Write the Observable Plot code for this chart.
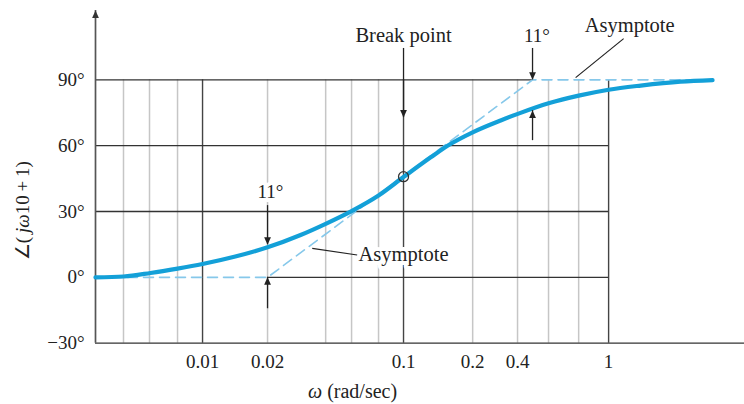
<!DOCTYPE html>
<html><head><meta charset="utf-8">
<script src="https://cdn.jsdelivr.net/npm/d3@7"></script>
<script src="https://cdn.jsdelivr.net/npm/@observablehq/plot@0.6"></script>
<style>html,body{margin:0;padding:0;background:#fff}svg{display:block}</style>
</head><body><div id="chart"></div>
<script>
// phase curve of (jω10+1)
const omega = [0.00297, 0.00408, 0.00554, 0.00753, 0.01, 0.0145, 0.0209, 0.0304, 0.0404, 0.0542, 0.0736, 0.0977, 0.133, 0.161, 0.214, 0.294, 0.360, 0.506, 0.712, 1, 1.44, 2.26, 3.25];
const phase = [0, 0.4, 2.0, 4.0, 6.1, 9.5, 13.7, 19.3, 24.4, 30.2, 37.3, 45.7, 54.7, 60.0, 66.1, 71.5, 74.6, 79.3, 82.8, 85.5, 87.4, 89.2, 89.9];
// straight-line asymptote
const asymOmega = [0.00297, 0.0209, 0.422, 3.25];
const asymPhase = [0, 0, 90, 90];
// grid
const gridLight = [0.00408, 0.00548, 0.00753, 0.0209, 0.0404, 0.0542, 0.0736, 0.214, 0.356, 0.506, 0.712];
const gridDark = [0.01, 0.0977, 1];
const hLineY = [90, 60, 30, 0, -30];
const hLineFrom = [0.00297, 0.00297, 0.00297, 0.0209, 0.00297];
const hLineTo = [0.422, 1, 1, 1, 4.67];
// ticks
const xTickAt = [0.01, 0.0209, 0.0977, 0.214, 0.356, 1];
const xTickLabels = ["0.01", "0.02", "0.1", "0.2", "0.4", "1"];
const yTicks = [90, 60, 30, 0, -30];
const yTickLabels = ["90°", "60°", "30°", "0°", "−30°"];
// annotations
const arrowX = [0.0977, 0.422, 0.422, 0.0209, 0.0209];
const arrowFrom = [104.3, 104.3, 62.3, 32.7, -14.3];
const arrowTo = [72.8, 90, 76.0, 14.9, 0];
const noteText = ["Break point", "11°", "11°", "Asymptote", "Asymptote"];
const noteX = [0.0977, 0.444, 0.0216, 1.27, 0.0977];
const noteY = [110.2, 110.2, 38.8, 114.7, 10.3];
const leadX1 = [1.186, 0.0347], leadY1 = [108.8, 13.2], leadX2 = [0.688, 0.0578], leadY2 = [91.0, 10.2];
const breakPoint = [{x: 0.0977, y: 45.9}];
const xLabel = "ω (rad/sec)";
const yLabel = "∠( jω10 + 1)";

const xMin = 0.00297, xMax = 4.67, yMin = -30, yMax = 121.6;

const curve = omega.map((w, i) => ({w, p: phase[i]}));
const asym = asymOmega.map((w, i) => ({w, p: asymPhase[i]}));
const hLines = hLineY.map((y, i) => ({y, x1: hLineFrom[i], x2: hLineTo[i]}));
const arrows = arrowX.map((x, i) => ({x, y1: arrowFrom[i], y2: arrowTo[i], down: arrowFrom[i] > arrowTo[i]}));
const notes = noteText.map((t, i) => ({t, x: noteX[i], y: noteY[i], big: /[a-z]/.test(t)}));
const leads = leadX1.map((x1, i) => ({x1, y1: leadY1[i], x2: leadX2[i], y2: leadY2[i]}));
const xTicks = xTickAt.map((x, i) => ({x, t: xTickLabels[i]}));
const yTickData = yTicks.map((y, i) => ({y, t: yTickLabels[i]}));

const headUp = {draw(ctx) { ctx.moveTo(0, 0); ctx.lineTo(-3.4, 7.5); ctx.lineTo(3.4, 7.5); ctx.closePath(); }};
const headDown = {draw(ctx) { ctx.moveTo(0, 0); ctx.lineTo(-3.4, -7.5); ctx.lineTo(3.4, -7.5); ctx.closePath(); }};

const serif = "'Liberation Serif', 'Times New Roman', serif";

const chart = Plot.plot({
  width: 744, height: 404,
  marginLeft: 95, marginRight: 0, marginTop: 10, marginBottom: 61.3,
  x: {type: "log", domain: [xMin, xMax], axis: null},
  y: {domain: [yMin, yMax], axis: null},
  style: {fontFamily: serif, fontSize: "19px", color: "#222", background: "#fff", overflow: "visible"},
  marks: [
    Plot.ruleX(gridLight, {x: d => d, y1: -30, y2: 90, stroke: "#c6c6c6", strokeWidth: 1.5}),
    Plot.ruleX(gridDark, {x: d => d, y1: -30, y2: 90, stroke: "#444", strokeWidth: 1.4}),
    Plot.ruleY(hLines, {y: "y", x1: "x1", x2: "x2", stroke: "#333", strokeWidth: 1.3}),
    Plot.ruleX([xMin], {x: d => d, y1: -30, y2: yMax, stroke: "#555", strokeWidth: 1.7}),
    Plot.dot([{x: xMin, y: yMax}], {x: "x", y: "y", symbol: headUp, fill: "#333", stroke: null, r: 3}),
    Plot.line(asym, {x: "w", y: "p", stroke: "#86c8ea", strokeWidth: 1.6, strokeDasharray: "10,6"}),
    Plot.line(curve, {x: "w", y: "p", stroke: "#13a0d8", strokeWidth: 4.2, curve: "monotone-x"}),
    Plot.dot(breakPoint, {x: "x", y: "y", r: 5, stroke: "#333", fill: "none", strokeWidth: 1.3}),
    Plot.ruleX(arrows, {x: "x", y1: "y1", y2: "y2", stroke: "#222", strokeWidth: 1.3}),
    Plot.dot(arrows.filter(d => d.down), {x: "x", y: "y2", symbol: headDown, fill: "#222", stroke: null, r: 3}),
    Plot.dot(arrows.filter(d => !d.down), {x: "x", y: "y2", symbol: headUp, fill: "#222", stroke: null, r: 3}),
    Plot.link(leads, {x1: "x1", y1: "y1", x2: "x2", y2: "y2", stroke: "#222", strokeWidth: 1.2}),
    Plot.text(notes, {x: "x", y: "y", text: "t", fontSize: d => d.big ? 20.5 : 19, fill: "#222", stroke: "white", strokeWidth: 8, paintOrder: "stroke", strokeLinejoin: "round"}),
    Plot.text(xTicks, {x: "x", y: -30, text: "t", dy: 19, fontSize: 19, fill: "#222"}),
    Plot.text(yTickData, {x: xMin, y: "y", text: "t", dx: -11, textAnchor: "end", fontSize: 19, fill: "#222"}),
    Plot.text([xLabel], {x: 0.0548, y: -30, text: d => d, dy: 48.3, fontSize: 20, fill: "#222"}),
    Plot.text([yLabel], {x: xMin, y: 30.4, text: d => d, dx: -73, rotate: -90, fontSize: 19, fill: "#222"})
  ]
});

// italicise the symbols inside the axis labels
d3.select(chart).selectAll("text").each(function () {
  const t = this.textContent;
  const sel = d3.select(this);
  if (t === yLabel) {
    sel.text("");
    sel.append("tspan").text("∠(\u2009");
    sel.append("tspan").attr("font-style", "italic").text("jω");
    sel.append("tspan").text("10\u2009+\u20091)");
  } else if (t === xLabel) {
    sel.text("");
    sel.append("tspan").attr("font-style", "italic").text("ω");
    sel.append("tspan").text(" (rad/sec)");
  }
});

document.getElementById("chart").append(chart);
</script>
</body></html>
